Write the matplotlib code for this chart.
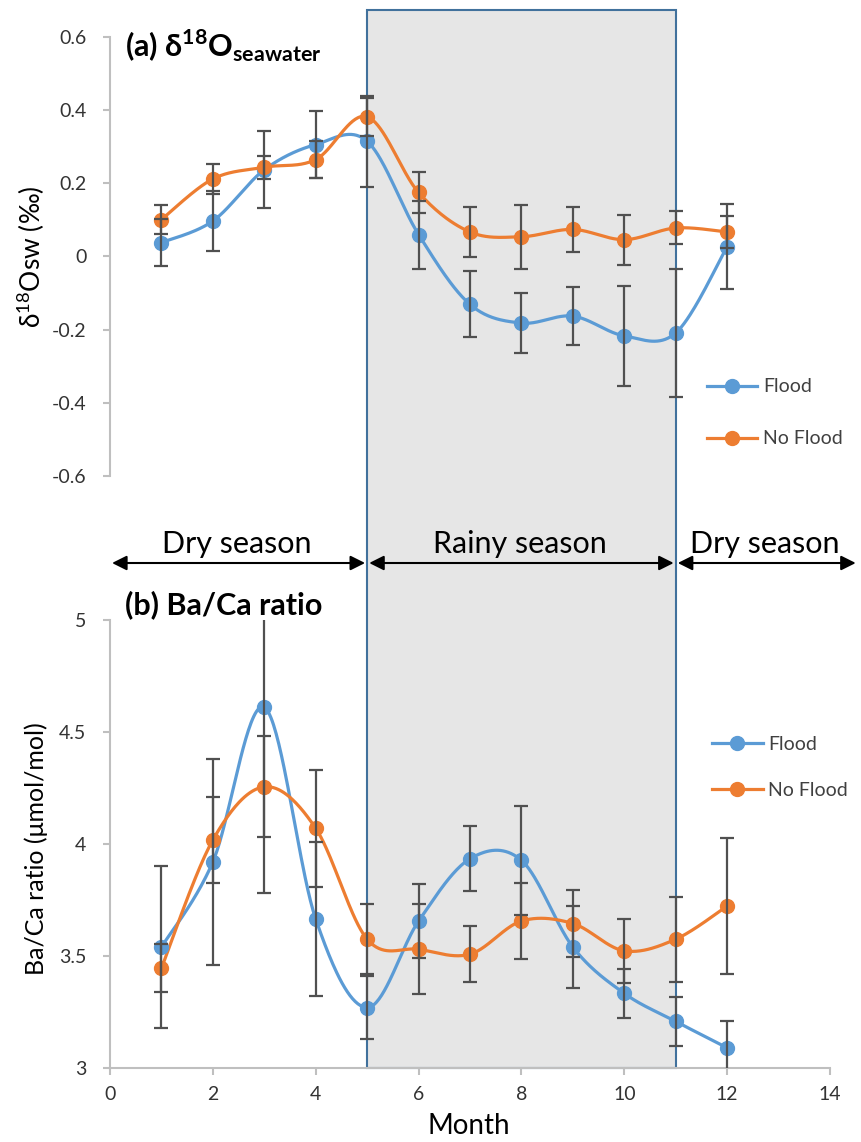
import numpy as np
import matplotlib
matplotlib.use("Agg")
import matplotlib.pyplot as plt
from matplotlib.lines import Line2D
from matplotlib.patches import Rectangle
from matplotlib.transforms import blended_transform_factory

plt.rcParams['font.family'] = ['Lato', 'DejaVu Sans']
plt.rcParams['mathtext.fontset'] = 'custom'
plt.rcParams['mathtext.rm'] = 'Lato'
plt.rcParams['mathtext.bf'] = 'Lato:bold'

# data
months = [1, 2, 3, 4, 5, 6, 7, 8, 9, 10, 11, 12]

d18o_flood = [0.038, 0.097, 0.237, 0.306, 0.315, 0.060, -0.131, -0.182, -0.163, -0.217, -0.209, 0.027]
d18o_flood_err = [0.065, 0.082, 0.105, 0.092, 0.124, 0.093, 0.090, 0.082, 0.080, 0.136, 0.176, 0.116]
d18o_noflood = [0.101, 0.212, 0.244, 0.265, 0.382, 0.175, 0.067, 0.054, 0.074, 0.046, 0.078, 0.067]
d18o_noflood_err = [0.040, 0.040, 0.031, 0.050, 0.052, 0.056, 0.068, 0.087, 0.061, 0.068, 0.045, 0.043]

baca_flood = [3.54, 3.92, 4.61, 3.665, 3.27, 3.656, 3.934, 3.927, 3.54, 3.333, 3.208, 3.09]
baca_flood_err = [0.36, 0.46, 0.83, 0.345, 0.14, 0.165, 0.146, 0.243, 0.184, 0.11, 0.11, 0.12]
baca_noflood = [3.446, 4.018, 4.255, 4.07, 3.575, 3.53, 3.508, 3.656, 3.645, 3.523, 3.575, 3.723]
baca_noflood_err = [0.106, 0.19, 0.225, 0.26, 0.155, 0.20, 0.125, 0.17, 0.15, 0.143, 0.19, 0.305]

top_ticks = [-0.6, -0.4, -0.2, 0, 0.2, 0.4, 0.6]
top_ticklabels = ['-0.6', '-0.4', '-0.2', '0', '0.2', '0.4', '0.6']
bot_ticks = [3, 3.5, 4, 4.5, 5]
bot_ticklabels = ['3', '3.5', '4', '4.5', '5']
x_ticks = [0, 2, 4, 6, 8, 10, 12, 14]

blue = '#5B9BD5'
orange = '#ED7D31'
errc = '#505050'
axc = '#BFBFBF'
txtc = '#333333'


def smooth(x, y, n=40):
    # Excel-like smoothed line (Catmull-Rom as cubic Bezier)
    p = np.column_stack([x, y]).astype(float)
    ext = np.vstack([p[0], p, p[-1]])
    xs, ys = [], []
    t = np.linspace(0, 1, n)
    for i in range(len(p) - 1):
        p0, p1, p2, p3 = ext[i], ext[i + 1], ext[i + 2], ext[i + 3]
        b1 = p1 + (p2 - p0) / 6
        b2 = p2 - (p3 - p1) / 6
        pts = ((1 - t) ** 3)[:, None] * p1 + (3 * (1 - t) ** 2 * t)[:, None] * b1 \
            + (3 * (1 - t) * t ** 2)[:, None] * b2 + (t ** 3)[:, None] * p2
        xs.extend(pts[:, 0])
        ys.extend(pts[:, 1])
    return xs, ys


def draw_series(ax, y, err, color):
    sx, sy = smooth(months, y)
    ax.plot(sx, sy, color=color, lw=2.3, zorder=3)
    ax.plot(months, y, 'o', color=color, ms=10, zorder=4)
    ax.errorbar(months, y, yerr=err, fmt='none', ecolor=errc, elinewidth=1.6,
                capsize=5, capthick=1.6, zorder=5)


fig = plt.figure(figsize=(8.62, 11.42), dpi=100)
ax1 = fig.add_axes([0.1276, 0.5832, 0.8353, 0.3844])
ax2 = fig.add_axes([0.1276, 0.0648, 0.8353, 0.3923])

for ax in (ax1, ax2):
    ax.set_facecolor('none')
    ax.set_xlim(0, 14)
    for s in ('top', 'right'):
        ax.spines[s].set_visible(False)
    ax.spines['left'].set_color(axc)
    ax.spines['left'].set_linewidth(1.5)
    ax.tick_params(axis='both', colors=axc, labelcolor=txtc, labelsize=14,
                   length=5, width=1.5, direction='out')

# top panel
ax1.spines['bottom'].set_visible(False)
ax1.set_ylim(-0.6, 0.6)
ax1.set_yticks(top_ticks)
ax1.set_yticklabels(top_ticklabels)
ax1.tick_params(axis='y', pad=12)
ax1.set_xticks([])
draw_series(ax1, d18o_flood, d18o_flood_err, blue)
draw_series(ax1, d18o_noflood, d18o_noflood_err, orange)

# bottom panel
ax2.spines['bottom'].set_color(axc)
ax2.spines['bottom'].set_linewidth(1.5)
ax2.set_ylim(3, 5)
ax2.set_yticks(bot_ticks)
ax2.set_yticklabels(bot_ticklabels)
ax2.set_xticks(x_ticks)
ax2.tick_params(axis='y', pad=12)
ax2.tick_params(axis='x', pad=8)
draw_series(ax2, baca_flood, baca_flood_err, blue)
draw_series(ax2, baca_noflood, baca_noflood_err, orange)

# shaded rainy-season box across both panels
bt = blended_transform_factory(ax2.transData, fig.transFigure)
rect = Rectangle((5, 0.0648), 6, 0.9912 - 0.0648, transform=bt,
                 facecolor='#E6E6E6', edgecolor='#41719C', lw=1.5, zorder=-1)
fig.add_artist(rect)

# season arrows
ay = 0.507
for x0, x1 in [(0.04, 4.96), (5.04, 10.96), (11.04, 14.5)]:
    ax2.annotate('', xy=(x1, ay), xytext=(x0, ay), xycoords=bt, textcoords=bt,
                 arrowprops=dict(arrowstyle='<|-|>', color='black', lw=1.5,
                                 mutation_scale=22, shrinkA=0, shrinkB=0),
                 annotation_clip=False)
for xc, lab in [(2.47, 'Dry season'), (7.97, 'Rainy season'), (12.74, 'Dry season')]:
    ax2.text(xc, 0.5158, lab, transform=bt, ha='center', va='baseline',
             fontsize=22, color='black')

# panel titles and axis labels
fig.text(0.145, 0.950, r'(a) δ$^{\mathbf{18}}$O$_{\mathbf{seawater}}$', fontsize=22,
         fontweight='bold', ha='left', va='baseline')
fig.text(0.145, 0.4623, '(b) Ba/Ca ratio', fontsize=22, fontweight='bold',
         ha='left', va='baseline')
fig.text(0.036, 0.775, r'δ$^{18}$Osw (‰)', rotation=90, fontsize=19,
         ha='center', va='center')
fig.text(0.042, 0.257, 'Ba/Ca ratio (μmol/mol)', rotation=90, fontsize=18,
         ha='center', va='center')
fig.text(0.544, 0.014, 'Month', fontsize=20, ha='center', va='center')

# legends
handles = [Line2D([], [], color=blue, marker='o', ms=10, lw=2.3),
           Line2D([], [], color=orange, marker='o', ms=10, lw=2.3)]
labels = ['Flood', 'No Flood']
ax1.legend(handles, labels, loc='center left', bbox_to_anchor=(0.820, 0.6384),
           bbox_transform=fig.transFigure, frameon=False, fontsize=14,
           labelspacing=1.8, handlelength=2.6, handletextpad=0.3,
           borderpad=0, borderaxespad=0, labelcolor='#404040')
ax2.legend(handles, labels, loc='center left', bbox_to_anchor=(0.826, 0.328),
           bbox_transform=fig.transFigure, frameon=False, fontsize=14,
           labelspacing=1.5, handlelength=2.6, handletextpad=0.3,
           borderpad=0, borderaxespad=0, labelcolor='#404040')

fig.savefig('out.png', dpi=100)
